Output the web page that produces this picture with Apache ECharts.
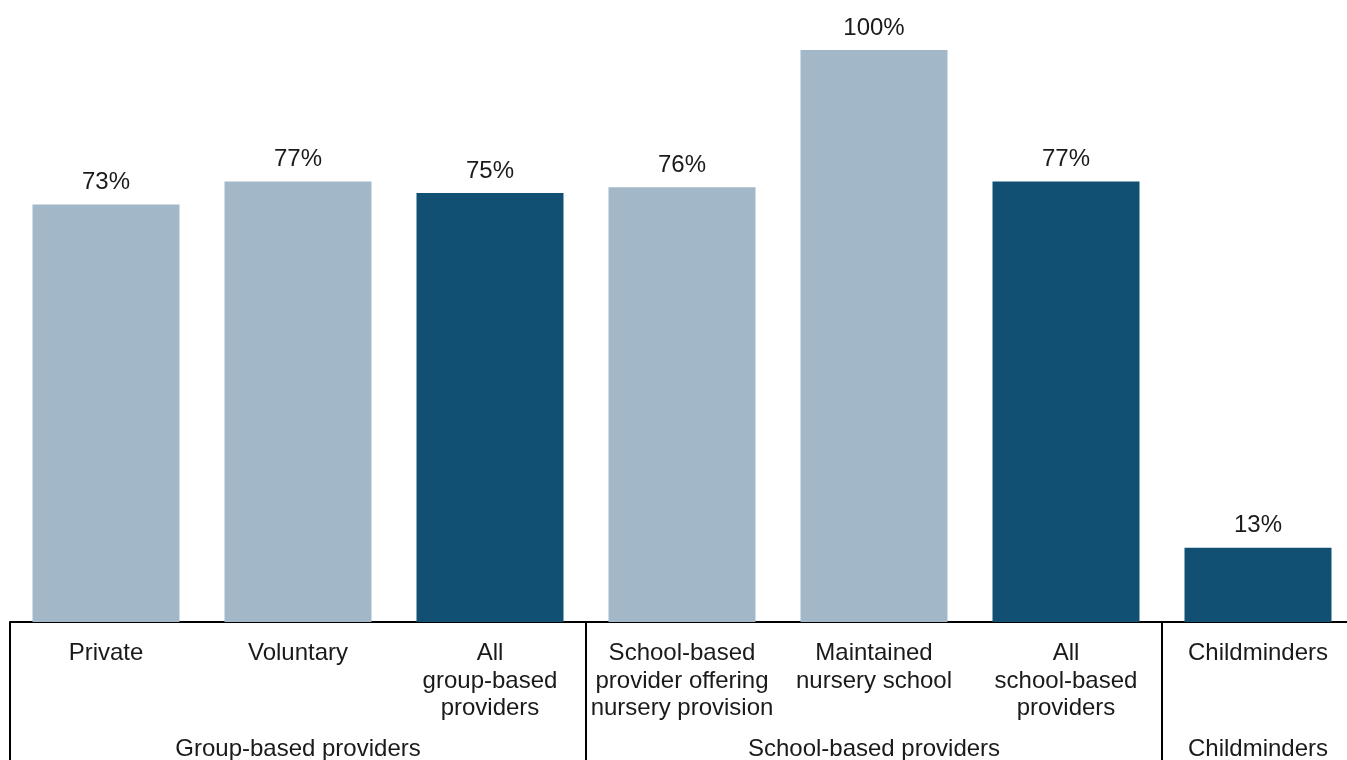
<!DOCTYPE html>
<html>
<head>
<meta charset="utf-8">
<script src="https://cdn.jsdelivr.net/npm/echarts@6/dist/echarts.min.js"></script>
<style>
html,body{margin:0;padding:0;background:#fff;}
#chart{width:1347px;height:760px;}
</style>
</head>
<body>
<div id="chart"></div>
<script>
const categories = ['Private', 'Voluntary', 'All\ngroup-based\nproviders', 'School-based\nprovider offering\nnursery provision', 'Maintained\nnursery school', 'All\nschool-based\nproviders', 'Childminders'];
const values = [73, 77, 75, 76, 100, 77, 13];
const isTotal = [false, false, true, false, false, true, true];
const groupLabels = ['', 'Group-based providers', '', '', 'School-based providers', '', 'Childminders'];
const groupStarts = [0, 3, 6];

const LIGHT = '#a2b8c8', DARK = '#114f73';
const FONT = 'Liberation Sans, Arial, sans-serif';
const TXT = '#1a1a1a';

const chart = echarts.init(document.getElementById('chart'));
chart.setOption({
  animation: false,
  grid: { left: 10, top: 50, width: 1344, height: 572, containLabel: false, outerBoundsMode: 'none' },
  xAxis: [
    {
      type: 'category', data: categories, position: 'bottom',
      axisLine: { show: true, lineStyle: { color: '#000', width: 2 } },
      axisTick: { show: true, length: 140, lineStyle: { color: '#000', width: 2 },
        interval: function (i) { return groupStarts.indexOf(i) >= 0; } },
      axisLabel: { interval: 0, margin: 18, fontSize: 24, lineHeight: 27.5, color: TXT, fontFamily: FONT }
    },
    {
      type: 'category', data: groupLabels, position: 'bottom', gridIndex: 0,
      axisLine: { show: false }, axisTick: { show: false },
      axisLabel: { interval: 0, margin: 114, fontSize: 24, lineHeight: 27, color: TXT, fontFamily: FONT }
    }
  ],
  yAxis: { type: 'value', min: 0, max: 100, show: false, splitLine: { show: false } },
  series: [{
    type: 'bar', xAxisIndex: 0, barWidth: 147,
    data: values.map((v, i) => ({ value: v, itemStyle: { color: isTotal[i] ? DARK : LIGHT } })),
    label: { show: true, position: 'top', distance: 10, formatter: '{c}%', fontSize: 24, color: TXT, fontFamily: FONT }
  }]
});
</script>
</body>
</html>
